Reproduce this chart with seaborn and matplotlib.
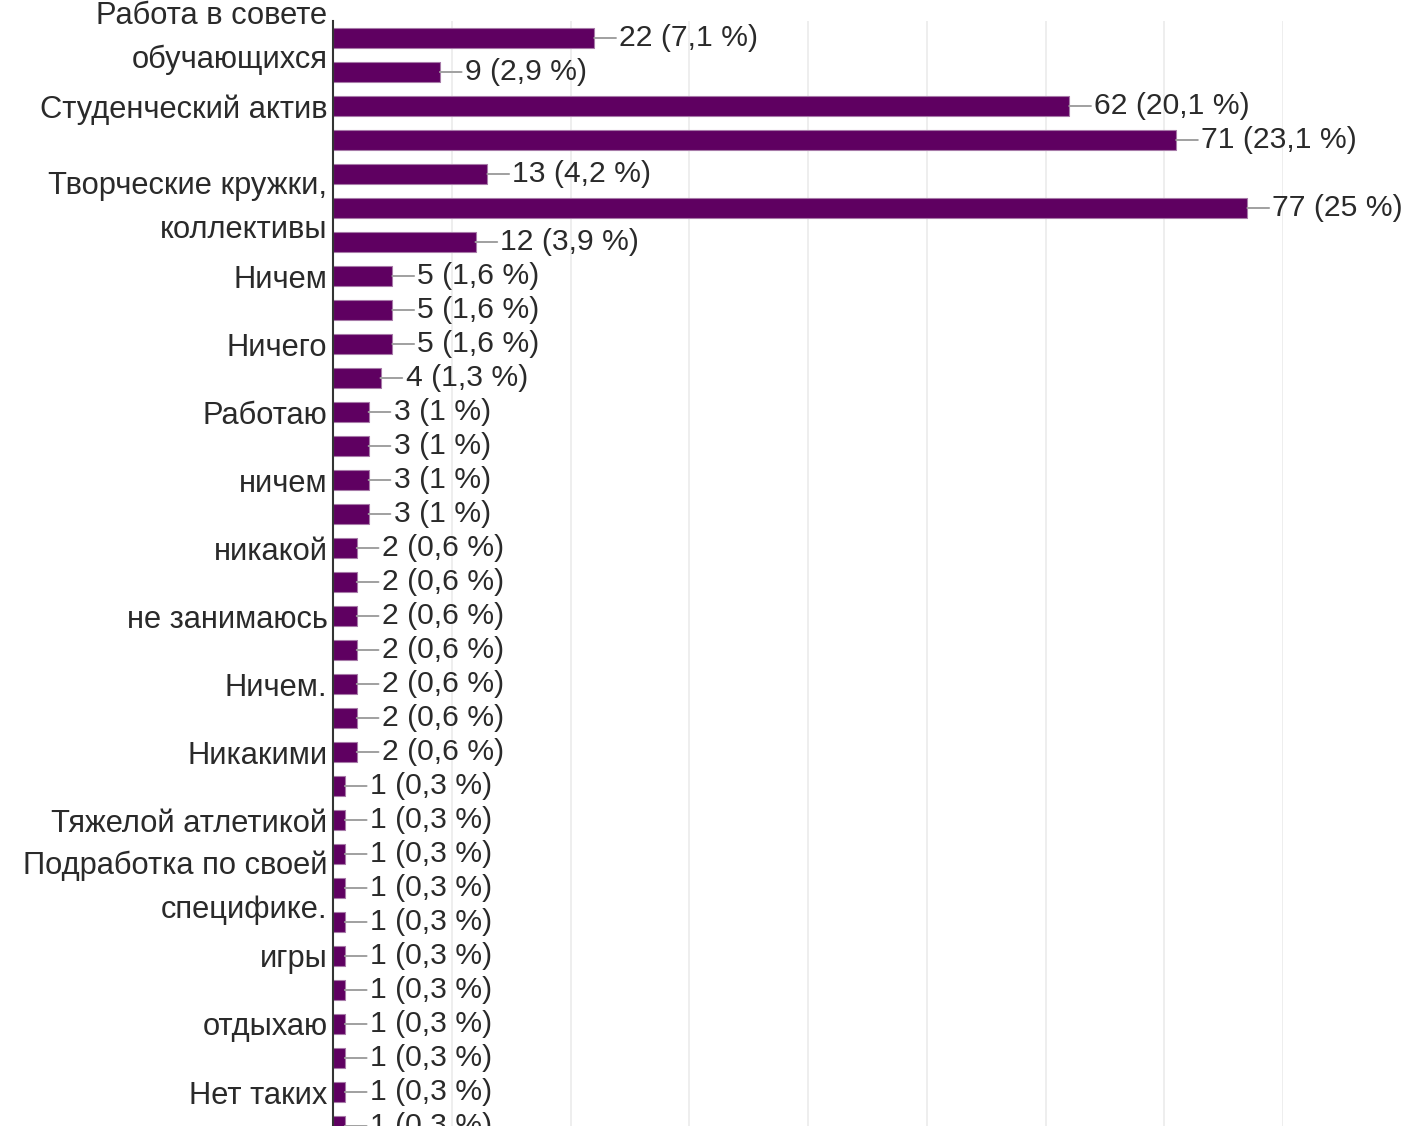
import numpy as np
import pandas as pd
import seaborn as sns
import matplotlib
matplotlib.use("Agg")
import matplotlib.pyplot as plt

# answers (only every other row carries a visible label in the original)
tick_labels = [
    "Работа в совете\nобучающихся", "", "Студенческий актив", "", "",
    "Творческие кружки,\nколлективы", "", "Ничем", "", "Ничего", "",
    "Работаю", "", "ничем", "", "никакой", "", "не занимаюсь", "",
    "Ничем.", "", "Никакими", "", "Тяжелой атлетикой", "",
    "Подработка по своей\nспецифике.", "", "игры", "", "отдыхаю", "",
    "Нет таких", "",
]
counts = [22, 9, 62, 71, 13, 77, 12, 5, 5, 5, 4, 3, 3, 3, 3,
          2, 2, 2, 2, 2, 2, 2,
          1, 1, 1, 1, 1, 1, 1, 1, 1, 1, 1]
percents = ["7,1", "2,9", "20,1", "23,1", "4,2", "25", "3,9", "1,6", "1,6", "1,6",
            "1,3", "1", "1", "1", "1",
            "0,6", "0,6", "0,6", "0,6", "0,6", "0,6", "0,6",
            "0,3", "0,3", "0,3", "0,3", "0,3", "0,3", "0,3", "0,3", "0,3", "0,3", "0,3"]

df = pd.DataFrame({"row": np.arange(len(counts)), "count": counts})

sns.set_style("white")
plt.rcParams["font.family"] = ["Liberation Sans", "DejaVu Sans"]

fig = plt.figure(figsize=(14.09, 11.26), dpi=100)
ax = fig.add_axes([333 / 1409, -17 / 1126, (1283 - 333) / 1409, 1122 / 1126])

sns.barplot(data=df, x="count", y="row", orient="y", color="#5f0061",
            saturation=1, width=0.57, edgecolor="#a77aa8", linewidth=0.8,
            ax=ax, zorder=3)

# value labels with a small grey leader line
for i, (c, p) in enumerate(zip(counts, percents)):
    ax.annotate(f"{c} ({p} %)", xy=(c, i), xytext=(18, 0),
                textcoords="offset points", ha="left", va="center",
                fontsize=21.7, color="#2a2a2a", annotation_clip=False,
                arrowprops=dict(arrowstyle="-", color="#a0a0a0", lw=1.4,
                                shrinkA=0, shrinkB=0))

ax.set_xlim(0, 80)
ax.set_ylim(len(counts) - 0.5, -0.5)
ax.set_xticks(np.arange(0, 81, 10))
ax.set_xticklabels([])
ax.xaxis.grid(True, color="#ebebeb", lw=1.2, zorder=0)
ax.set_axisbelow(True)

ax.set_yticks(np.arange(len(counts)))
ax.set_yticklabels(tick_labels, fontsize=22.2, color="#2a2a2a", linespacing=1.62)
for lab in ax.get_yticklabels():
    if "\n" in lab.get_text():
        lab.set_va("center")
ax.tick_params(axis="both", length=0)
ax.tick_params(axis="y", pad=4)
ax.set_xlabel("")
ax.set_ylabel("")

for s in ["top", "right", "bottom"]:
    ax.spines[s].set_visible(False)
ax.spines["left"].set_color("#333333")
ax.spines["left"].set_linewidth(1.5)
ax.spines["left"].set_zorder(4)

fig.savefig("out.png", dpi=100)
